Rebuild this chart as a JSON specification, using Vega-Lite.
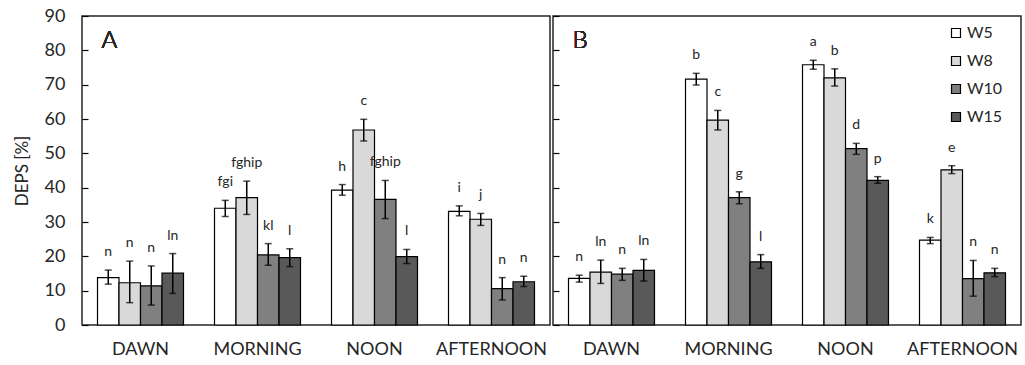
{
  "$schema": "https://vega.github.io/schema/vega-lite/v6.json",
  "padding": {"left": 12, "top": 6, "right": 2, "bottom": 5},
  "background": "white",
  "config": {
    "font": "Lato",
    "view": {"stroke": "#262626", "strokeWidth": 1.5},
    "axis": {"labelFont": "Lato", "titleFont": "Lato", "labelColor": "#262626", "titleColor": "#262626", "domain": false, "grid": false, "labelOverlap": false}
  },
  "data": {"values": [
    {"panel": "A", "time": "DAWN", "week": "W5", "value": 13.8, "lo": 11.9, "hi": 16.0, "letter": "n"},
    {"panel": "A", "time": "DAWN", "week": "W8", "value": 12.3, "lo": 6.5, "hi": 18.6, "letter": "n"},
    {"panel": "A", "time": "DAWN", "week": "W10", "value": 11.4, "lo": 5.8, "hi": 17.2, "letter": "n"},
    {"panel": "A", "time": "DAWN", "week": "W15", "value": 15.1, "lo": 9.2, "hi": 20.8, "letter": "ln"},
    {"panel": "A", "time": "MORNING", "week": "W5", "value": 34.0, "lo": 31.6, "hi": 36.3, "letter": "fgi"},
    {"panel": "A", "time": "MORNING", "week": "W8", "value": 37.1, "lo": 32.2, "hi": 41.9, "letter": "fghip"},
    {"panel": "A", "time": "MORNING", "week": "W10", "value": 20.4, "lo": 17.4, "hi": 23.7, "letter": "kl"},
    {"panel": "A", "time": "MORNING", "week": "W15", "value": 19.6, "lo": 17.0, "hi": 22.2, "letter": "l"},
    {"panel": "A", "time": "NOON", "week": "W5", "value": 39.3, "lo": 37.8, "hi": 40.9, "letter": "h"},
    {"panel": "A", "time": "NOON", "week": "W8", "value": 56.8, "lo": 53.6, "hi": 59.9, "letter": "c"},
    {"panel": "A", "time": "NOON", "week": "W10", "value": 36.6, "lo": 31.0, "hi": 42.1, "letter": "fghip"},
    {"panel": "A", "time": "NOON", "week": "W15", "value": 19.9, "lo": 17.9, "hi": 22.0, "letter": "l"},
    {"panel": "A", "time": "AFTERNOON", "week": "W5", "value": 33.1, "lo": 31.8, "hi": 34.7, "letter": "i"},
    {"panel": "A", "time": "AFTERNOON", "week": "W8", "value": 30.8, "lo": 29.0, "hi": 32.5, "letter": "j"},
    {"panel": "A", "time": "AFTERNOON", "week": "W10", "value": 10.6, "lo": 7.3, "hi": 13.8, "letter": "n"},
    {"panel": "A", "time": "AFTERNOON", "week": "W15", "value": 12.6, "lo": 11.2, "hi": 14.2, "letter": "n"},
    {"panel": "B", "time": "DAWN", "week": "W5", "value": 13.6, "lo": 12.5, "hi": 14.5, "letter": "n"},
    {"panel": "B", "time": "DAWN", "week": "W8", "value": 15.4, "lo": 12.1, "hi": 18.9, "letter": "ln"},
    {"panel": "B", "time": "DAWN", "week": "W10", "value": 14.8, "lo": 13.0, "hi": 16.5, "letter": "n"},
    {"panel": "B", "time": "DAWN", "week": "W15", "value": 15.9, "lo": 12.8, "hi": 19.1, "letter": "ln"},
    {"panel": "B", "time": "MORNING", "week": "W5", "value": 71.6, "lo": 69.9, "hi": 73.3, "letter": "b"},
    {"panel": "B", "time": "MORNING", "week": "W8", "value": 59.7, "lo": 56.8, "hi": 62.5, "letter": "c"},
    {"panel": "B", "time": "MORNING", "week": "W10", "value": 37.1, "lo": 35.3, "hi": 38.8, "letter": "g"},
    {"panel": "B", "time": "MORNING", "week": "W15", "value": 18.4, "lo": 16.5, "hi": 20.5, "letter": "l"},
    {"panel": "B", "time": "NOON", "week": "W5", "value": 75.8, "lo": 74.5, "hi": 77.1, "letter": "a"},
    {"panel": "B", "time": "NOON", "week": "W8", "value": 72.0, "lo": 69.6, "hi": 74.6, "letter": "b"},
    {"panel": "B", "time": "NOON", "week": "W10", "value": 51.4, "lo": 49.7, "hi": 52.9, "letter": "d"},
    {"panel": "B", "time": "NOON", "week": "W15", "value": 42.1, "lo": 41.3, "hi": 43.2, "letter": "p"},
    {"panel": "B", "time": "AFTERNOON", "week": "W5", "value": 24.7, "lo": 23.7, "hi": 25.5, "letter": "k"},
    {"panel": "B", "time": "AFTERNOON", "week": "W8", "value": 45.2, "lo": 44.1, "hi": 46.4, "letter": "e"},
    {"panel": "B", "time": "AFTERNOON", "week": "W10", "value": 13.5, "lo": 8.4, "hi": 18.8, "letter": "n"},
    {"panel": "B", "time": "AFTERNOON", "week": "W15", "value": 15.2, "lo": 14.1, "hi": 16.5, "letter": "n"}
  ]},
  "spacing": 0,
  "resolve": {"scale": {"fill": "independent", "y": "independent", "x": "independent"}},
  "hconcat": [
    {
      "width": 468, "height": 309,
      "transform": [{"filter": "datum.panel == 'A'"}],
      "encoding": {
        "x": {"field": "time", "type": "nominal", "sort": ["DAWN", "MORNING", "NOON", "AFTERNOON"],
              "scale": {"paddingInner": 0.265, "paddingOuter": 0.1325},
              "axis": {"title": null, "labelAngle": 0, "ticks": false, "labelFontSize": 18, "labelPadding": 15}},
        "xOffset": {"field": "week", "type": "nominal", "sort": ["W5", "W8", "W10", "W15"]}
      },
      "layer": [
        {
          "mark": {"type": "bar", "stroke": "#000000", "strokeWidth": 1.2},
          "encoding": {
            "y": {"field": "value", "type": "quantitative", "scale": {"domain": [0, 90], "nice": false},
                  "axis": {"title": "DEPS [%]", "values": [0, 10, 20, 30, 40, 50, 60, 70, 80, 90], "tickSize": -6, "tickColor": "#000000", "tickWidth": 1.2, "labelFontSize": 18, "labelPadding": 23, "titleFontSize": 17, "titleFontWeight": "normal", "titlePadding": 13}},
            "fill": {"field": "week", "type": "nominal", "scale": {"domain": ["W5", "W8", "W10", "W15"], "range": ["#ffffff", "#d9d9d9", "#808080", "#595959"]}, "legend": null}
          }
        },
        {
          "mark": {"type": "rule", "color": "#000000", "strokeWidth": 1.5},
          "encoding": {"y": {"field": "lo", "type": "quantitative", "axis": {"title": "DEPS [%]", "values": [0, 10, 20, 30, 40, 50, 60, 70, 80, 90], "tickSize": -6, "tickColor": "#000000", "tickWidth": 1.2, "labelFontSize": 18, "labelPadding": 23, "titleFontSize": 17, "titleFontWeight": "normal", "titlePadding": 13}}, "y2": {"field": "hi"}}
        },
        {
          "mark": {"type": "tick", "color": "#000000", "size": 7, "thickness": 1.5, "orient": "horizontal"},
          "encoding": {"y": {"field": "lo", "type": "quantitative", "axis": {"title": "DEPS [%]", "values": [0, 10, 20, 30, 40, 50, 60, 70, 80, 90], "tickSize": -6, "tickColor": "#000000", "tickWidth": 1.2, "labelFontSize": 18, "labelPadding": 23, "titleFontSize": 17, "titleFontWeight": "normal", "titlePadding": 13}}}
        },
        {
          "mark": {"type": "tick", "color": "#000000", "size": 7, "thickness": 1.5, "orient": "horizontal"},
          "encoding": {"y": {"field": "hi", "type": "quantitative", "axis": {"title": "DEPS [%]", "values": [0, 10, 20, 30, 40, 50, 60, 70, 80, 90], "tickSize": -6, "tickColor": "#000000", "tickWidth": 1.2, "labelFontSize": 18, "labelPadding": 23, "titleFontSize": 17, "titleFontWeight": "normal", "titlePadding": 13}}}
        },
        {
          "mark": {"type": "text", "fontSize": 14, "baseline": "alphabetic", "dy": -14, "color": "#262626"},
          "encoding": {"y": {"field": "hi", "type": "quantitative", "axis": {"title": "DEPS [%]", "values": [0, 10, 20, 30, 40, 50, 60, 70, 80, 90], "tickSize": -6, "tickColor": "#000000", "tickWidth": 1.2, "labelFontSize": 18, "labelPadding": 23, "titleFontSize": 17, "titleFontWeight": "normal", "titlePadding": 13}}, "text": {"field": "letter"}}
        },
        {
          "mark": {"type": "text", "fontSize": 24, "fontWeight": 300, "align": "left", "baseline": "alphabetic", "dx": 4, "color": "#262626"},
          "encoding": {"x": {"datum": "DAWN", "bandPosition": 0}, "xOffset": {"value": 0}, "y": {"datum": 80.7, "type": "quantitative", "axis": {"title": "DEPS [%]", "values": [0, 10, 20, 30, 40, 50, 60, 70, 80, 90], "tickSize": -6, "tickColor": "#000000", "tickWidth": 1.2, "labelFontSize": 18, "labelPadding": 23, "titleFontSize": 17, "titleFontWeight": "normal", "titlePadding": 13}}, "text": {"value": "A"}}
        }
      ]
    },
    {
      "width": 468, "height": 309,
      "transform": [{"filter": "datum.panel == 'B'"}],
      "encoding": {
        "x": {"field": "time", "type": "nominal", "sort": ["DAWN", "MORNING", "NOON", "AFTERNOON"],
              "scale": {"paddingInner": 0.265, "paddingOuter": 0.1325},
              "axis": {"title": null, "labelAngle": 0, "ticks": false, "labelFontSize": 18, "labelPadding": 15}},
        "xOffset": {"field": "week", "type": "nominal", "sort": ["W5", "W8", "W10", "W15"]}
      },
      "layer": [
        {
          "mark": {"type": "bar", "stroke": "#000000", "strokeWidth": 1.2},
          "encoding": {
            "y": {"field": "value", "type": "quantitative", "scale": {"domain": [0, 90], "nice": false},
                  "axis": {"title": null, "values": [0, 10, 20, 30, 40, 50, 60, 70, 80, 90], "tickSize": -6, "tickColor": "#000000", "tickWidth": 1.2, "labels": false}},
            "fill": {"field": "week", "type": "nominal", "scale": {"domain": ["W5", "W8", "W10", "W15"], "range": ["#ffffff", "#d9d9d9", "#808080", "#595959"]},
                     "legend": {"orient": "none", "legendX": 395, "legendY": 9, "title": null, "symbolType": "square", "symbolSize": 81, "symbolStrokeColor": "#000000", "symbolStrokeWidth": 1.2, "labelFont": "Lato", "labelFontSize": 16, "labelColor": "#262626", "rowPadding": 12, "labelOffset": 3, "padding": 0}}
          }
        },
        {
          "mark": {"type": "rule", "color": "#000000", "strokeWidth": 1.5},
          "encoding": {"y": {"field": "lo", "type": "quantitative", "axis": {"title": null, "values": [0, 10, 20, 30, 40, 50, 60, 70, 80, 90], "tickSize": -6, "tickColor": "#000000", "tickWidth": 1.2, "labels": false}}, "y2": {"field": "hi"}}
        },
        {
          "mark": {"type": "tick", "color": "#000000", "size": 7, "thickness": 1.5, "orient": "horizontal"},
          "encoding": {"y": {"field": "lo", "type": "quantitative", "axis": {"title": null, "values": [0, 10, 20, 30, 40, 50, 60, 70, 80, 90], "tickSize": -6, "tickColor": "#000000", "tickWidth": 1.2, "labels": false}}}
        },
        {
          "mark": {"type": "tick", "color": "#000000", "size": 7, "thickness": 1.5, "orient": "horizontal"},
          "encoding": {"y": {"field": "hi", "type": "quantitative", "axis": {"title": null, "values": [0, 10, 20, 30, 40, 50, 60, 70, 80, 90], "tickSize": -6, "tickColor": "#000000", "tickWidth": 1.2, "labels": false}}}
        },
        {
          "mark": {"type": "text", "fontSize": 14, "baseline": "alphabetic", "dy": -14, "color": "#262626"},
          "encoding": {"y": {"field": "hi", "type": "quantitative", "axis": {"title": null, "values": [0, 10, 20, 30, 40, 50, 60, 70, 80, 90], "tickSize": -6, "tickColor": "#000000", "tickWidth": 1.2, "labels": false}}, "text": {"field": "letter"}}
        },
        {
          "mark": {"type": "text", "fontSize": 24, "fontWeight": 300, "align": "left", "baseline": "alphabetic", "dx": 4, "color": "#262626"},
          "encoding": {"x": {"datum": "DAWN", "bandPosition": 0}, "xOffset": {"value": 0}, "y": {"datum": 80.7, "type": "quantitative", "axis": {"title": null, "values": [0, 10, 20, 30, 40, 50, 60, 70, 80, 90], "tickSize": -6, "tickColor": "#000000", "tickWidth": 1.2, "labels": false}}, "text": {"value": "B"}}
        }
      ]
    }
  ]
}
